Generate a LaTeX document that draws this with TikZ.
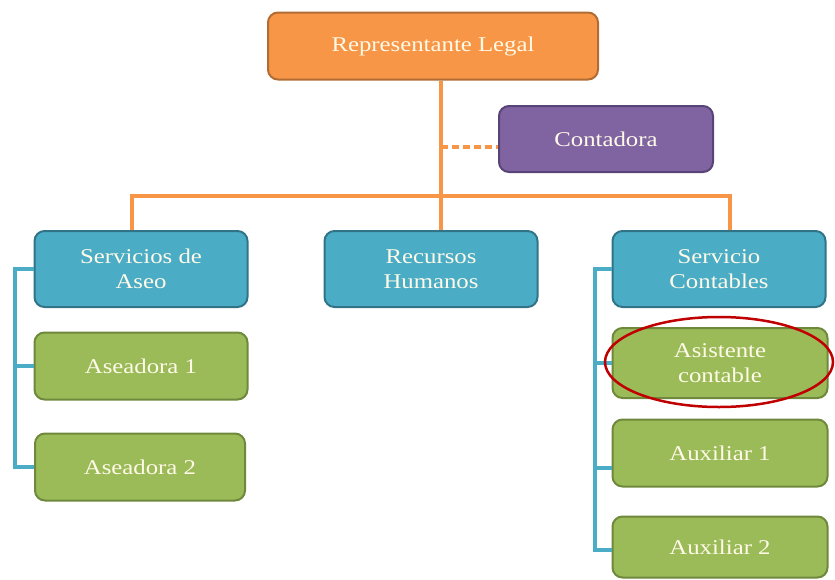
\documentclass[tikz,border=0pt]{standalone}
\usepackage{fontspec}
\setmainfont{Liberation Serif}[FakeStretch=1.18]
\usetikzlibrary{positioning,calc}
\definecolor{repfill}{RGB}{247,150,70}
\definecolor{repdraw}{RGB}{177,108,52}
\definecolor{contfill}{RGB}{128,100,162}
\definecolor{contdraw}{RGB}{88,68,118}
\definecolor{areafill}{RGB}{75,172,198}
\definecolor{areadraw}{RGB}{49,115,135}
\definecolor{jobfill}{RGB}{155,187,89}
\definecolor{jobdraw}{RGB}{110,136,60}
\definecolor{boxtext}{RGB}{255,250,232}
\definecolor{circled}{RGB}{192,0,0}
\tikzset{orgbox/.style={rounded corners=10pt,line width=2pt,align=center,text=boxtext,
    font=\fontsize{21}{25}\selectfont,inner sep=0pt},
  lead/.style={orgbox,fill=repfill,draw=repdraw},
  advisor/.style={orgbox,fill=contfill,draw=contdraw},
  area/.style={orgbox,fill=areafill,draw=areadraw,minimum width=213pt,minimum height=76pt},
  job/.style={orgbox,fill=jobfill,draw=jobdraw,minimum width=213pt,minimum height=67pt},
  upline/.style={repfill,line width=3.5pt},
  sideline/.style={areafill,line width=3.5pt},
  ring/.style={circled,line width=2.5pt}}

\begin{document}
\begin{tikzpicture}[x=1pt,y=-1pt]
\useasboundingbox (0,0) rectangle (835,579);
% top level
\node[lead,minimum width=330pt,minimum height=67pt] (rep) at (433,46) {Representante Legal};
\node[advisor,minimum width=214pt,minimum height=66pt] (cont) at (606,139) {Contadora};
% areas
\node[area] (aseo) at (141,269) {Servicios de\\Aseo};
\node[area] (rh) at (431,269) {Recursos\\Humanos};
\node[area] (contables) at (719,269) {Servicio\\Contables};
% staff
\node[job] (ase1) at (141,366) {Aseadora 1};
\node[job,minimum width=210pt] (ase2) at (140,467) {Aseadora 2};
\node[job,minimum width=215pt,minimum height=70pt] (asis) at (720,363) {Asistente\\contable};
\node[job,minimum width=215pt] (aux1) at (720,453) {Auxiliar 1};
\node[job,minimum width=215pt,minimum height=61pt] (aux2) at (720,547) {Auxiliar 2};
% connectors
\coordinate (trunk) at ([xshift=8pt]rep.south);
\coordinate (busy) at (0,196);
\coordinate (dashend) at ([yshift=-8pt]cont.west);
\draw[upline] (trunk) -- ([xshift=10pt]rh.north);
\draw[upline,dash pattern=on 7pt off 4pt] (dashend -| trunk) -- (dashend);
\draw[upline] ([xshift=-9pt]aseo.north) |- (busy -| trunk) -| ([xshift=11pt]contables.north);
\coordinate (lspine) at (15,0);
\coordinate (rspine) at (595,0);
\draw[sideline] (aseo.west) -- (aseo.west -| lspine) -- (ase2.west -| lspine) -- (ase2.west);
\draw[sideline] (ase1.west -| lspine) -- (ase1.west);
\draw[sideline] (contables.west) -- (contables.west -| rspine) -- ([yshift=-3pt]aux2.west -| rspine) -- ([yshift=-3pt]aux2.west);
\draw[sideline] (asis.west -| rspine) -- (asis.west);
\draw[sideline] ([yshift=-15pt]aux1.west -| rspine) -- ([yshift=-15pt]aux1.west);
% highlight
\draw[ring] (719,362) ellipse [x radius=114, y radius=45];
\end{tikzpicture}
\end{document}
